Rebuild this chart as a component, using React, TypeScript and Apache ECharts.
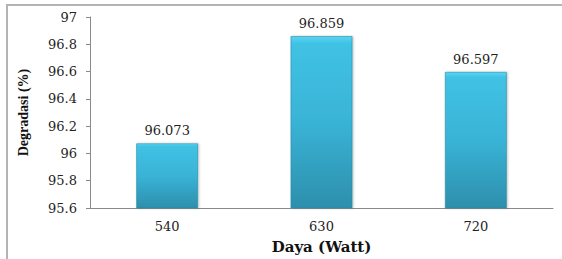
import React, { useEffect, useRef } from "react";
import * as echarts from "echarts";

const categories = ["540", "630", "720"];
const degradasi = [96.073, 96.859, 96.597];
const yMin = 95.6;
const yMax = 97;
const yInterval = 0.2;
const xAxisName = "Daya (Watt)";
const yAxisName = "Degradasi (%)";

export default function App() {
  const ref = useRef<HTMLDivElement>(null);
  useEffect(() => {
    document.body.style.margin = "0";
    const chart = echarts.init(ref.current!, null, { renderer: "svg" });
    chart.setOption({
      animation: false,
      backgroundColor: "#ffffff",
      grid: { left: 90, top: 17, right: 9, bottom: 50 },
      graphic: [
        { type: "line", shape: { x1: 7, y1: 5, x2: 7, y2: 259 }, style: { stroke: "#b4b4b4", lineWidth: 2 } },
        { type: "line", shape: { x1: 6, y1: 5, x2: 562, y2: 5 }, style: { stroke: "#b4b4b4", lineWidth: 2 } },
      ],
      xAxis: {
        type: "category",
        data: categories,
        name: xAxisName,
        nameLocation: "middle",
        nameGap: 31,
        nameTextStyle: { fontFamily: "DejaVu Serif", fontWeight: "bold", fontSize: 15, color: "#111" },
        axisLine: { lineStyle: { color: "#8a8a8a", width: 1 } },
        axisTick: { show: false },
        axisLabel: { fontFamily: "DejaVu Serif", fontSize: 13, color: "#222", margin: 12 },
      },
      yAxis: {
        type: "value",
        min: yMin,
        max: yMax,
        interval: yInterval,
        name: yAxisName,
        nameLocation: "middle",
        nameGap: 60,
        nameTextStyle: { fontFamily: "Liberation Serif", fontWeight: "bold", fontSize: 14, color: "#111" },
        axisLine: { show: true, lineStyle: { color: "#8a8a8a", width: 1 } },
        axisTick: { show: true, inside: false, length: 4, lineStyle: { color: "#8a8a8a" } },
        splitLine: { show: false },
        axisLabel: {
          fontFamily: "DejaVu Serif",
          fontSize: 13,
          color: "#222",
          margin: 13,
          formatter: (v: number) => String(Math.round(v * 10) / 10),
        },
      },
      series: [
        {
          type: "bar",
          data: degradasi,
          barWidth: "40%",
          itemStyle: {
            color: new echarts.graphic.LinearGradient(0, 0, 0, 1, [
              { offset: 0, color: "#5ad6f2" },
              { offset: 0.04, color: "#40c2e5" },
              { offset: 0.5, color: "#39b3d6" },
              { offset: 1, color: "#2d8fac" },
            ]),
            borderColor: "#2a8aa5",
            borderWidth: 0.6,
            shadowColor: "rgba(0,0,0,0.25)",
            shadowBlur: 2,
            shadowOffsetX: 1,
          },
          label: {
            show: true,
            position: "top",
            distance: 6,
            fontFamily: "DejaVu Serif",
            fontSize: 13,
            color: "#222",
            formatter: (p: any) => p.value.toFixed(3),
          },
        },
      ],
    });
    return () => chart.dispose();
  }, []);
  return <div ref={ref} style={{ width: 562, height: 259 }} />;
}
